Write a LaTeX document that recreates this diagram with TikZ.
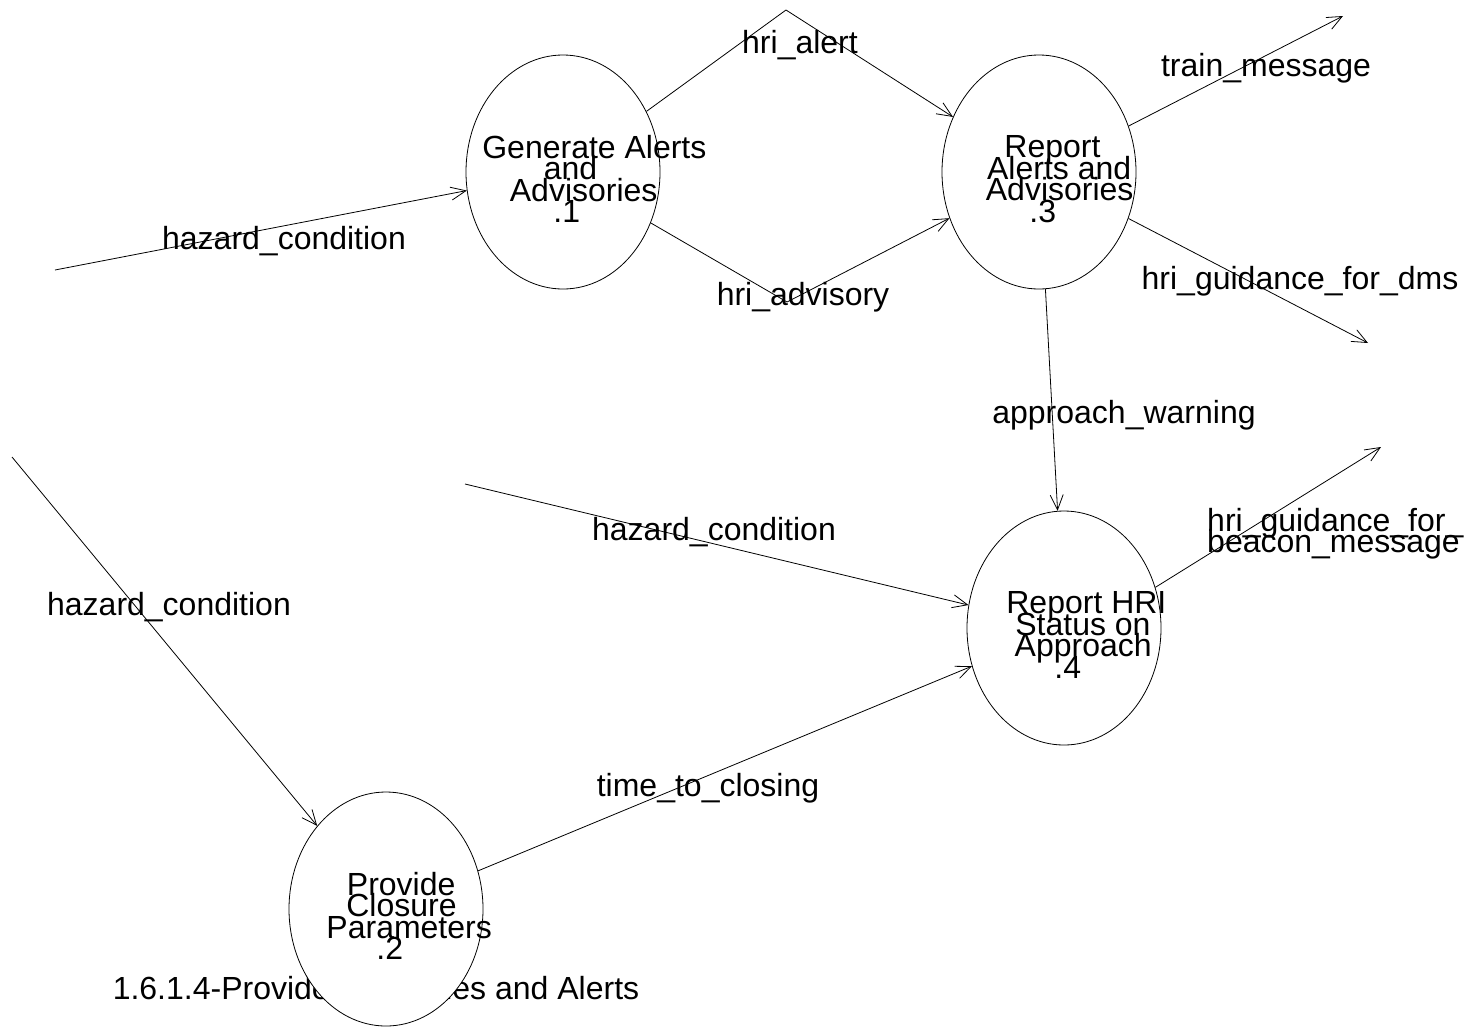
\documentclass[tikz,border=0pt]{standalone}
\usepackage{fontspec}
\setmainfont{Liberation Sans}
\usetikzlibrary{shapes.geometric,arrows.meta}

\newcommand\dfdfont{\fontsize{32}{21.5}\selectfont\lineskiplimit=-1000pt\relax}
% each line of a process name sits a little right of the centre
\newcommand\pline[1]{\setbox0\hbox{#1}\hspace*{0.28\wd0}\box0}

\tikzset{
  proc/.style={ellipse, draw, fill=white, line width=0.8pt, minimum width=194pt, minimum height=234pt, inner sep=0pt},
  proctext/.style={align=center, inner sep=0pt, yshift=-7pt, font=\dfdfont},
  flowlbl/.style={anchor=base, inner sep=0pt, font=\dfdfont},
  flow/.style={line width=0.8pt, -{Straight Barb[length=15pt,width=13pt]}}
}

\begin{document}
\begin{tikzpicture}[x=1pt, y=-1pt]
  \useasboundingbox (0,0) rectangle (1467,1029);

  % title, partly hidden behind process .2
  \node[flowlbl] (title) at (376,999) {1.6.1.4-Provide Advisories and Alerts};

  % processes
  \node[proc] (g1) at (563,172) {};
  \node[proc] (r3) at (1039,172) {};
  \node[proc] (r4) at (1064,628) {};
  \node[proc] (p2) at (386,909) {};
  \node[proctext] (g1t) at (g1) {\pline{Generate Alerts}\\\pline{and}\\\pline{Advisories}\\\pline{.1}};
  \node[proctext] (r3t) at (r3) {\pline{Report}\\\pline{Alerts and}\\\pline{Advisories}\\\pline{.3}};
  \node[proctext] (r4t) at (r4) {\pline{Report HRI}\\\pline{Status on}\\\pline{Approach}\\\pline{.4}};
  \node[proctext] (p2t) at (p2) {\pline{Provide}\\\pline{Closure}\\\pline{Parameters}\\\pline{.2}};

  % free ends and bends
  \coordinate (in1) at (55,270);
  \coordinate (in2) at (465,484);
  \coordinate (in3) at (12,457);
  \coordinate (alertbend) at (786,10);
  \coordinate (advbend) at (787,302);
  \coordinate (out1) at (1343,16);
  \coordinate (out2) at (1368,343);
  \coordinate (out3) at (1381,447);

  % flows
  \draw[flow] (in1) -- (g1);
  \draw[flow] (g1) -- (alertbend) -- (r3);
  \draw[flow] (g1) -- (advbend) -- (r3);
  \foreach \a/\b in {r3/out1, r3/out2, r3/r4, in2/r4, in3/p2, p2/r4}
    \draw[flow] (\a) -- (\b);
  \draw[flow] (r4.24) -- (out3);

  % flow labels
  \node[flowlbl] (lhaz1) at (284,249) {hazard\_condition};
  \node[flowlbl] (lalert) at (800,53) {hri\_alert};
  \node[flowlbl] (ladv) at (803,305) {hri\_advisory};
  \node[flowlbl] (ltrain) at (1266,76) {train\_message};
  \node[flowlbl] (ldms) at (1300,289) {hri\_guidance\_for\_dms};
  \node[flowlbl] (lwarn) at (1124,423) {approach\_warning};
  \node[flowlbl] (lhaz2) at (714,540) {hazard\_condition};
  \node[flowlbl] (lhaz3) at (169,615) {hazard\_condition};
  \node[flowlbl] (ltime) at (708,796) {time\_to\_closing};
  \node[flowlbl, anchor=north west, align=left] (lbeacon) at (1207,508) {hri\_guidance\_for\_\\beacon\_message};
\end{tikzpicture}
\end{document}
